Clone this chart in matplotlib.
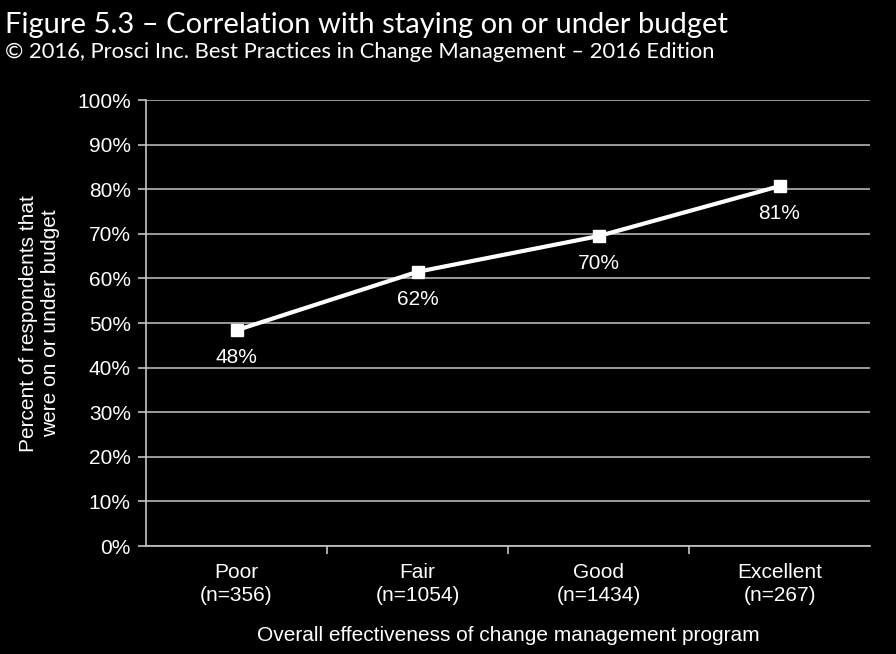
import matplotlib.pyplot as plt

# data
categories = ["Poor\n(n=356)", "Fair\n(n=1054)", "Good\n(n=1434)", "Excellent\n(n=267)"]
values = [48.4, 61.5, 69.5, 80.7]
labels = ["48%", "62%", "70%", "81%"]
yticks = list(range(0, 101, 10))

plt.rcParams['font.family'] = ['Liberation Sans', 'DejaVu Sans']

fig = plt.figure(figsize=(8.96, 6.54), dpi=100, facecolor="black")
ax = fig.add_axes([0.163, 0.165, 0.808, 0.682], facecolor="black")

x = list(range(len(categories)))
ax.plot(x, values, color="white", lw=3, marker="s", markersize=9,
        markerfacecolor="white", markeredgecolor="white", zorder=3)
for xi, v, t in zip(x, values, labels):
    ax.annotate(t, (xi, v), xytext=(0, -13), textcoords="offset points",
                ha="center", va="top", color="white", fontsize=15)

ax.set_xlim(-0.5, len(categories) - 0.5)
ax.set_ylim(0, 100)
ax.set_yticks(yticks)
ax.set_yticklabels([f"{t}%" for t in yticks])
ax.yaxis.grid(True, color="#c4c4c4", lw=1.1)
ax.set_axisbelow(True)

# category ticks at boundaries, labels centred
ax.set_xticks([i + 0.5 for i in range(len(categories) - 1)])
ax.set_xticklabels([])
ax.set_xticks(x, minor=True)
ax.set_xticklabels(categories, minor=True, fontsize=15, color="white", linespacing=1.3)
ax.tick_params(axis="x", which="minor", length=0, pad=12)
ax.tick_params(axis="x", which="major", length=6, color="#c4c4c4", width=1.2)
ax.tick_params(axis="y", length=6, color="#c4c4c4", width=1.2, labelsize=15,
               labelcolor="white", pad=5)

for s in ["top", "right"]:
    ax.spines[s].set_visible(False)
for s in ["left", "bottom"]:
    ax.spines[s].set_color("#c4c4c4")
    ax.spines[s].set_linewidth(1.2)

ax.set_xlabel("Overall effectiveness of change management program",
              color="white", fontsize=15, labelpad=15)
ax.set_ylabel("Percent of respondents that\nwere on or under budget",
              color="white", fontsize=15, labelpad=12, linespacing=1.25)

fig.text(0.006, 0.982, "Figure 5.3 \u2013 Correlation with staying on or under budget",
         color="white", fontsize=21, va="top", family=["Lato", "DejaVu Sans"])
fig.text(0.006, 0.936, "\u00a9 2016, Prosci Inc. Best Practices in Change Management \u2013 2016 Edition",
         color="white", fontsize=15.8, va="top", family=["Lato", "DejaVu Sans"])

fig.savefig("out.png", dpi=100, facecolor="black")
